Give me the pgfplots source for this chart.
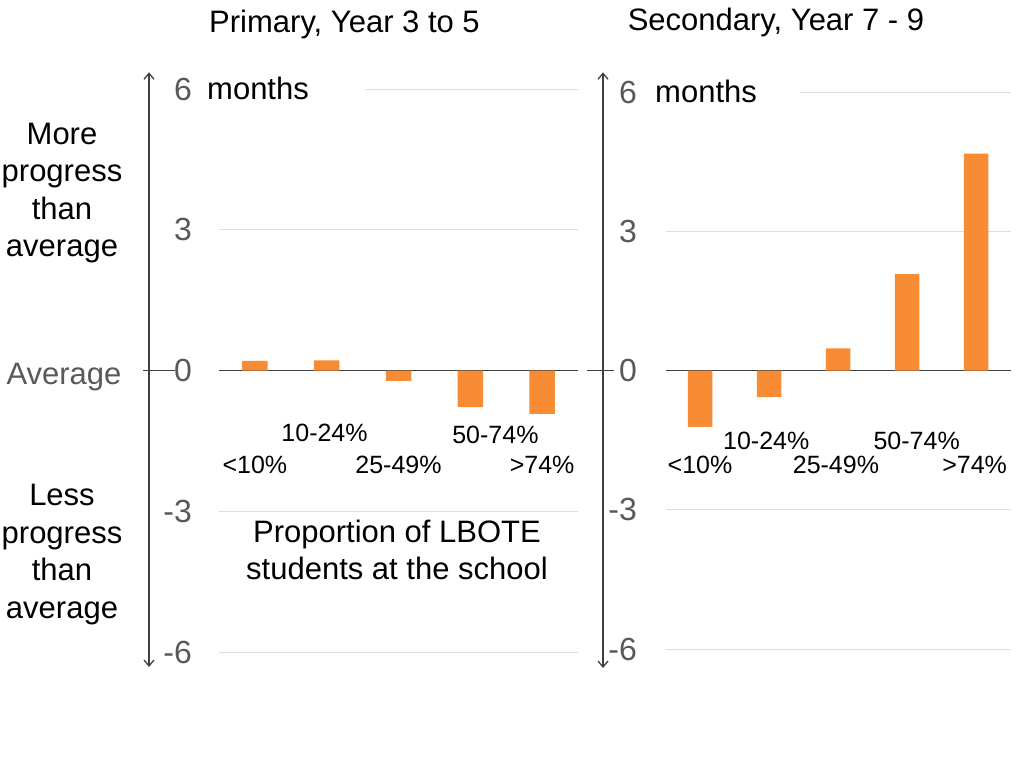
\documentclass[border=0pt]{standalone}
\usepackage{fontspec}
\setmainfont{Liberation Sans}
\usepackage{pgfplots}
\pgfplotsset{compat=1.18}
\usetikzlibrary{arrows.meta}

\definecolor{barorange}{RGB}{247,140,53}
\definecolor{gridgray}{RGB}{222,222,222}
\definecolor{ticklab}{RGB}{89,89,89}
\definecolor{axisgray}{RGB}{64,64,64}

\tikzset{catlab/.style={font=\fontsize{25}{25}\selectfont, inner sep=0pt}}

\pgfplotsset{
  panel/.style={
    scale only axis,
    anchor=south west,
    xmin=-0.5, xmax=4.5,
    ymin=-6, ymax=6,
    ybar, bar width=#1,
    clip=false,
    axis line style={draw=none},
    major tick length=0pt,
    xtick=\empty,
    ytick={-6,-3,3,6},
    ymajorgrids,
    major grid style={gridgray, line width=1pt},
    extra y ticks={0},
    extra y tick style={grid=major, major grid style={axisgray, line width=1.3pt}},
    /pgf/number format/assume math mode=true,
    yticklabel style={font=\fontsize{32}{32}\selectfont, text=ticklab,
      anchor=east, inner sep=0pt},
  },
}

\begin{document}
\begin{tikzpicture}
\useasboundingbox (0pt,0pt) rectangle (1024pt,768pt);

% ---- Primary panel ----
\begin{axis}[panel=25.5pt,
    at={(219pt,116pt)}, width=359pt, height=562.7pt,
    yticklabel style={xshift=-27pt}]
  \addplot[fill=barorange, draw=none]
    coordinates {(0,0.21) (1,0.22) (2,-0.22) (3,-0.78) (4,-0.92)};
  \draw[axisgray, line width=1.3pt, {Straight Barb[length=6pt,width=10pt]}-{Straight Barb[length=6pt,width=10pt]}]
    ([xshift=-70pt,yshift=-15pt]axis cs:-0.5,-6) -- ([xshift=-70pt,yshift=17pt]axis cs:-0.5,6);
  \draw[axisgray, line width=1.3pt]
    ([xshift=-76pt]axis cs:-0.5,0) -- ([xshift=-44pt]axis cs:-0.5,0);
  \node[catlab] at (axis cs:0,-2.02) {<10\%};
  \node[catlab] at (axis cs:0.97,-1.32) {10-24\%};
  \node[catlab] at (axis cs:2,-2.02) {25-49\%};
  \node[catlab] at (axis cs:3.35,-1.37) {50-74\%};
  \node[catlab] at (axis cs:4,-2.02) {>74\%};
\end{axis}

% ---- Secondary panel ----
\begin{axis}[panel=24.5pt,
    at={(665.5pt,119pt)}, width=345pt, height=556.7pt,
    yticklabel style={xshift=-28.5pt}]
  \addplot[fill=barorange, draw=none]
    coordinates {(0,-1.21) (1,-0.57) (2,0.48) (3,2.08) (4,4.68)};
  \draw[axisgray, line width=1.3pt, {Straight Barb[length=6pt,width=10pt]}-{Straight Barb[length=6pt,width=10pt]}]
    ([xshift=-62.5pt,yshift=-19pt]axis cs:-0.5,-6) -- ([xshift=-62.5pt,yshift=20pt]axis cs:-0.5,6);
  \draw[axisgray, line width=1.3pt]
    ([xshift=-78.5pt]axis cs:-0.5,0) -- ([xshift=-51.5pt]axis cs:-0.5,0);
  \node[catlab] at (axis cs:0,-2.03) {<10\%};
  \node[catlab] at (axis cs:0.96,-1.52) {10-24\%};
  \node[catlab] at (axis cs:1.97,-2.03) {25-49\%};
  \node[catlab] at (axis cs:3.14,-1.52) {50-74\%};
  \node[catlab] at (axis cs:3.98,-2.03) {>74\%};
\end{axis}

% ---- texts ----
\node[font=\fontsize{31}{31}\selectfont, inner sep=0pt] at (344.5pt,744pt) {Primary, Year 3 to 5};
\node[font=\fontsize{31}{31}\selectfont, inner sep=0pt] at (776pt,746pt) {Secondary, Year 7 - 9};

\node[fill=white, anchor=west, inner xsep=0pt, inner ysep=4pt, text width=158pt, align=left,
  font=\fontsize{31}{31}\selectfont] at (207pt,680pt) {months};
\node[fill=white, anchor=west, inner xsep=0pt, inner ysep=4pt, text width=145pt, align=left,
  font=\fontsize{31}{31}\selectfont] at (655pt,676.5pt) {months};

\node[fill=white, inner xsep=8pt, inner ysep=2pt, align=center,
  font=\fontsize{31}{37}\selectfont] at (397pt,218pt) {Proportion of LBOTE\\students at the school};

\node[align=center, inner sep=0pt, font=\fontsize{31}{37.5}\selectfont] at (62pt,575pt)
  {More\\progress\\than\\average};
\node[inner sep=0pt, text=ticklab, font=\fontsize{31}{31}\selectfont] at (64pt,391pt) {Average};
\node[align=center, inner sep=0pt, font=\fontsize{31}{37.5}\selectfont] at (62pt,213.5pt)
  {Less\\progress\\than\\average};
\end{tikzpicture}
\end{document}
